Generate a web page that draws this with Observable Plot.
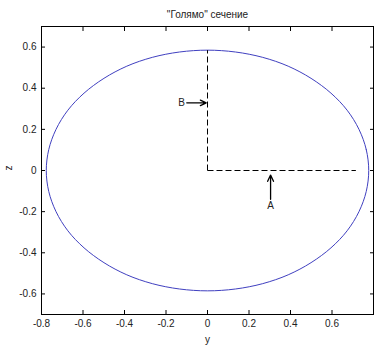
<!DOCTYPE html>
<html>
<head>
<meta charset="utf-8">
<script src="https://cdn.jsdelivr.net/npm/d3@7"></script>
<script src="https://cdn.jsdelivr.net/npm/@observablehq/plot@0.6"></script>
<style>
  html, body { margin: 0; padding: 0; background: #fff; }
  svg { display: block; }
</style>
</head>
<body>
<div id="chart"></div>
<script>
// Ellipse outline, y and z coordinates
const ellipseY = [0.777, 0.765, 0.730, 0.673, 0.595, 0.499, 0.389, 0.266, 0.135, 0,
  -0.135, -0.266, -0.389, -0.499, -0.595, -0.673, -0.730, -0.765, -0.777,
  -0.765, -0.730, -0.673, -0.595, -0.499, -0.389, -0.266, -0.135, 0,
  0.135, 0.266, 0.389, 0.499, 0.595, 0.673, 0.730, 0.765];
const ellipseZ = [0, 0.102, 0.200, 0.293, 0.376, 0.448, 0.507, 0.550, 0.576, 0.585,
  0.576, 0.550, 0.507, 0.448, 0.376, 0.293, 0.200, 0.102, 0,
  -0.102, -0.200, -0.293, -0.376, -0.448, -0.507, -0.550, -0.576, -0.585,
  -0.576, -0.550, -0.507, -0.448, -0.376, -0.293, -0.200, -0.102];

// Dashed guide lines
const guideX1 = [0, 0];
const guideY1 = [0, 0];
const guideX2 = [0, 0.715];
const guideY2 = [0.585, 0];

// Annotation arrows (A, B)
const arrowNames = ["B", "A"];
const arrowTailX = [-0.100, 0.304];
const arrowTailY = [0.329, -0.140];
const arrowTipX = [-0.006, 0.304];
const arrowTipY = [0.329, -0.022];
const labelX = [-0.125, 0.304];
const labelY = [0.329, -0.172];

const xTicks = [-0.8, -0.6, -0.4, -0.2, 0, 0.2, 0.4, 0.6];
const yTicks = [-0.6, -0.4, -0.2, 0, 0.2, 0.4, 0.6];
const titleText = "\"Голямо\" сечение";
const xLabel = "y";
const yLabel = "z";

const ellipse = ellipseY.map((y, i) => ({y, z: ellipseZ[i]}));
const guides = guideX1.map((x, i) => ({x1: x, y1: guideY1[i], x2: guideX2[i], y2: guideY2[i]}));
const arrows = arrowNames.map((n, i) => ({n, x1: arrowTailX[i], y1: arrowTailY[i], x2: arrowTipX[i], y2: arrowTipY[i], lx: labelX[i], ly: labelY[i]}));

const fmt = d => String(d);
const noText = () => "";

const chart = Plot.plot({
  width: 374,
  height: 345,
  marginLeft: 41,
  marginRight: 1,
  marginTop: 26,
  marginBottom: 31,
  style: {fontFamily: "'Liberation Sans', Arial, sans-serif", fontSize: "10px", color: "#000", background: "#fff"},
  x: {domain: [-0.8, 0.8]},
  y: {domain: [-0.7, 0.7]},
  marks: [
    Plot.frame({stroke: "#000"}),
    // tick marks (inside, all four sides)
    Plot.axisX({anchor: "bottom", ticks: xTicks, tickSize: -4, tickFormat: noText, label: null}),
    Plot.axisX({anchor: "top", ticks: xTicks, tickSize: -4, tickFormat: noText, label: null}),
    Plot.axisY({anchor: "left", ticks: yTicks, tickSize: -4, tickFormat: noText, label: null}),
    Plot.axisY({anchor: "right", ticks: yTicks, tickSize: -4, tickFormat: noText, label: null}),
    // tick labels
    Plot.axisX({anchor: "bottom", ticks: xTicks, tickSize: 0, tickPadding: 5, tickFormat: fmt, label: null, fill: "#222"}),
    Plot.axisY({anchor: "left", ticks: yTicks, tickSize: 0, tickPadding: 5, tickFormat: fmt, label: null, fill: "#222"}),
    // ellipse
    Plot.line(ellipse, {x: "y", y: "z", curve: "catmull-rom-closed", stroke: "#4040c0", strokeWidth: 1}),
    // dashed guides
    Plot.link(guides, {x1: "x1", y1: "y1", x2: "x2", y2: "y2", stroke: "#000", strokeDasharray: "6,3", strokeWidth: 1}),
    // arrows
    Plot.arrow(arrows, {x1: "x1", y1: "y1", x2: "x2", y2: "y2", stroke: "#000", strokeWidth: 1.3, headLength: 8, headAngle: 50}),
    Plot.text(arrows, {x: "lx", y: "ly", text: "n", fontSize: 10, fill: "#222"}),
    // title and axis labels
    Plot.text([titleText], {frameAnchor: "top", lineAnchor: "middle", dy: -12, fontSize: 10, fill: "#222"}),
    Plot.text([xLabel], {frameAnchor: "bottom", lineAnchor: "middle", dy: 25, fontSize: 10, fill: "#222"}),
    Plot.text([yLabel], {frameAnchor: "left", dx: -33, rotate: -90, fontSize: 10, fill: "#222"})
  ]
});
document.getElementById("chart").appendChild(chart);
</script>
</body>
</html>
